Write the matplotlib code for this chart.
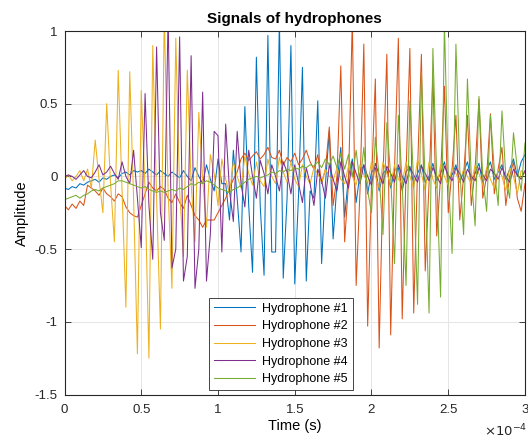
import numpy as np
import matplotlib.pyplot as plt
from matplotlib.ticker import FuncFormatter

plt.rcParams['font.family'] = ['Liberation Sans', 'DejaVu Sans']

# Sampling: 400 kHz, 0 .. 3e-4 s
t = np.linspace(0, 3e-4, 121)

labels = ["Hydrophone #1", "Hydrophone #2", "Hydrophone #3", "Hydrophone #4", "Hydrophone #5"]
colors = ["#0072BD", "#D95319", "#EDB120", "#7E2F8E", "#77AC30"]

# Hydrophone #1
y1 = [-0.08, -0.09, -0.07, -0.08, -0.05, -0.06, -0.04, -0.03, -0.02, -0.04,
      -0.01, -0.02, 0.00, 0.01, -0.01, 0.02, 0.03, 0.01, 0.04, 0.03,
      0.04, 0.02, 0.05, 0.03, 0.01, 0.04, 0.02, 0.00, 0.03, 0.01,
      -0.01, 0.04, 0.00, -0.03, 0.06, 0.00, -0.05, 0.08, -0.02, -0.10,
      0.12, -0.05, -0.05, -0.30, 0.18, -0.15, -0.52, 0.48, -0.20, -0.66,
      0.82, -0.20, -0.68, 0.97, -0.52, -0.52, 1.08, -0.70, -0.15, 0.90,
      -0.74, -0.12, 0.75, -0.72, -0.10, -0.15, 0.52, -0.60, -0.05, 0.31,
      -0.43, -0.05, 0.20, -0.28, 0.00, 0.12, -0.18, 0.02, 0.08, -0.12,
      0.03, 0.06, -0.10, 0.02, 0.05, -0.08, 0.04, 0.06, -0.10, 0.03,
      0.07, -0.05, 0.02, 0.08, -0.04, 0.00, 0.09, -0.03, 0.02, 0.10,
      -0.02, 0.01, 0.08, -0.04, 0.03, 0.10, -0.03, 0.02, 0.09, -0.05,
      0.04, 0.10, -0.02, 0.03, 0.08, -0.02, 0.05, 0.12, 0.00, 0.10,
      0.15]

# Hydrophone #2
y2 = [-0.20, -0.23, -0.19, -0.22, -0.17, -0.20, -0.06, -0.08, -0.10, -0.13,
      -0.08, -0.12, -0.14, -0.17, -0.12, -0.14, -0.21, -0.25, -0.27, -0.28,
      -0.20, -0.12, -0.04, -0.08, -0.10, -0.07, -0.09, -0.15, -0.18, -0.12,
      -0.18, -0.22, -0.13, -0.20, -0.27, -0.30, -0.35, -0.30, -0.30, -0.30,
      -0.25, -0.20, -0.15, -0.08, -0.02, 0.03, 0.12, 0.16, 0.11, 0.14,
      0.17, 0.12, 0.15, 0.20, 0.13, 0.12, 0.18, 0.08, 0.13, 0.10,
      0.16, 0.08, 0.12, 0.18, 0.10, 0.05, 0.15, -0.05, 0.05, 0.34,
      -0.20, 0.00, 0.76, -0.45, -0.05, 1.08, -0.75, -0.10, 0.91, -1.03,
      -0.05, 0.67, -1.18, 0.00, 0.84, -1.09, 0.05, 0.95, -0.98, 0.02,
      0.88, -0.94, 0.05, 0.84, -0.65, -0.05, 0.70, -0.41, 0.00, 0.62,
      -0.25, 0.05, 0.42, -0.30, 0.00, 0.42, -0.20, 0.05, 0.53, -0.15,
      0.00, 0.43, -0.12, 0.05, 0.20, -0.20, 0.00, 0.10, -0.15, -0.24,
      -0.05]

# Hydrophone #3
y3 = [-0.02, 0.01, -0.03, 0.00, 0.04, -0.03, 0.05, -0.08, 0.25, -0.02,
      -0.25, 0.50, -0.05, -0.45, 0.73, -0.10, -0.90, 0.72, -0.15, -1.22,
      0.59, -0.10, -1.25, 0.90, -0.15, -1.05, 1.12, -0.10, -0.77, 0.95,
      -0.10, -0.55, 0.73, -0.05, -0.45, 0.44, -0.02, -0.35, 0.15, 0.02,
      -0.20, 0.12, -0.02, -0.12, 0.10, 0.00, -0.08, 0.14, 0.02, -0.06,
      0.10, -0.03, -0.07, 0.12, 0.00, -0.05, 0.13, 0.03, -0.04, 0.10,
      -0.02, -0.07, 0.08, 0.00, -0.05, 0.06, 0.02, -0.04, 0.05, 0.00,
      -0.03, 0.06, -0.02, -0.05, 0.07, 0.00, -0.06, 0.08, 0.01, -0.05,
      0.10, 0.00, -0.08, 0.10, 0.02, -0.06, 0.08, -0.02, -0.05, 0.10,
      0.00, -0.08, 0.12, 0.02, -0.10, 0.10, -0.02, -0.08, 0.08, 0.00,
      -0.06, 0.06, 0.02, -0.04, 0.05, 0.00, -0.05, 0.08, 0.02, -0.06,
      0.06, -0.02, -0.08, 0.05, 0.00, -0.10, 0.06, 0.00, -0.12, 0.04,
      0.02]

# Hydrophone #4
y4 = [0.00, 0.01, 0.00, -0.02, 0.01, 0.04, 0.00, -0.01, 0.03, 0.08,
      0.01, 0.03, 0.07, 0.02, -0.02, 0.10, 0.00, -0.05, 0.18, -0.15,
      -0.49, 0.57, -0.20, -0.57, 0.89, -0.25, -0.44, 1.12, -0.63, -0.50,
      0.96, -0.72, -0.55, 0.83, -0.77, -0.50, 0.58, -0.72, -0.40, 0.31,
      0.28, -0.52, 0.36, -0.10, -0.31, 0.31, -0.05, -0.21, 0.18, 0.00,
      -0.15, 0.11, 0.02, -0.12, 0.08, 0.00, -0.10, 0.10, 0.03, -0.12,
      0.08, -0.05, -0.18, 0.06, -0.05, -0.20, 0.05, -0.03, -0.15, 0.08,
      -0.02, -0.10, 0.10, 0.00, -0.08, 0.10, 0.02, -0.05, 0.08, 0.00,
      -0.06, 0.09, 0.01, -0.05, 0.07, 0.02, -0.04, 0.08, 0.00, -0.05,
      0.06, 0.01, -0.04, 0.07, 0.02, -0.03, 0.06, 0.00, -0.05, 0.07,
      0.01, -0.03, 0.06, 0.02, -0.04, 0.05, 0.00, -0.03, 0.06, 0.01,
      -0.03, 0.05, 0.02, -0.02, 0.06, 0.00, -0.04, 0.05, 0.01, -0.02,
      0.04]

# Hydrophone #5
y5 = [-0.16, -0.15, -0.14, -0.13, -0.15, -0.13, -0.12, -0.10, -0.09, -0.10,
      -0.08, -0.07, -0.06, -0.05, -0.03, -0.03, -0.04, -0.05, -0.06, -0.07,
      -0.08, -0.07, -0.09, -0.10, -0.11, -0.10, -0.11, -0.10, -0.09, -0.10,
      -0.08, -0.09, -0.07, -0.05, -0.06, -0.04, -0.05, -0.03, -0.04, -0.06,
      -0.08, -0.09, -0.10, -0.11, -0.09, -0.08, -0.06, -0.04, -0.02, -0.01,
      0.00, -0.01, 0.00, 0.01, 0.03, 0.02, 0.04, 0.03, 0.05, 0.04,
      0.06, 0.05, 0.07, 0.06, 0.08, 0.07, 0.10, 0.06, 0.12, 0.08,
      0.14, 0.06, 0.16, 0.05, 0.15, 0.00, 0.18, -0.05, 0.20, -0.10,
      -0.25, 0.27, 0.00, -0.40, 0.37, 0.00, -0.60, 0.42, -0.05, -0.75,
      0.52, -0.05, -0.88, 0.72, -0.05, -0.94, 0.88, 0.00, -0.83, 1.05,
      0.00, -0.53, 0.91, 0.05, -0.40, 0.67, 0.00, -0.34, 0.55, 0.00,
      -0.24, 0.42, 0.05, -0.20, 0.45, 0.00, -0.15, 0.30, 0.05, -0.10,
      0.23]

signals = [y1, y2, y3, y4, y5]

fig = plt.figure(figsize=(5.28, 4.38), dpi=100)
ax = fig.add_axes([64.5 / 528, 1 - 394.5 / 438, 460.5 / 528, 363.5 / 438])

for y, c, lab in zip(signals, colors, labels):
    ax.plot(t, y, color=c, lw=0.75, label=lab)

ax.set_xlim(0, 3e-4)
ax.set_ylim(-1.5, 1)
ax.set_xticks(np.arange(0, 3.01e-4, 0.5e-4))
ax.set_yticks([-1.5, -1, -0.5, 0, 0.5, 1])
ax.xaxis.set_major_formatter(FuncFormatter(lambda v, p: f"{v * 1e4:g}"))
ax.yaxis.set_major_formatter(FuncFormatter(lambda v, p: f"{v:g}"))

ax.grid(True, color="#e5e5e5", lw=0.7)
ax.set_axisbelow(True)
for s in ax.spines.values():
    s.set_color("#262626")
    s.set_linewidth(0.8)
ax.tick_params(direction="in", top=True, right=True, length=4, width=0.6,
               colors="#262626", labelsize=9.5)
ax.tick_params(axis="x", pad=7)
ax.tick_params(axis="y", pad=5)

ax.set_title("Signals of hydrophones", fontsize=11, fontweight="bold", pad=6)
ax.set_xlabel("Time (s)", fontsize=10.5, labelpad=2)
ax.set_ylabel("Amplitude", fontsize=10.5, labelpad=4)
ax.text(1.005, -0.1, r"$\times10^{-4}$", transform=ax.transAxes,
        ha="right", va="center", fontsize=9.5, color="#262626")

leg = ax.legend(loc="lower center", bbox_to_anchor=(0.47, 0.012), fontsize=9,
                fancybox=False, framealpha=1, edgecolor="#262626",
                handlelength=3.3, handletextpad=0.6, borderpad=0.4,
                labelspacing=0.45, borderaxespad=0)
leg.get_frame().set_linewidth(0.6)

fig.savefig("out.png", dpi=100)
